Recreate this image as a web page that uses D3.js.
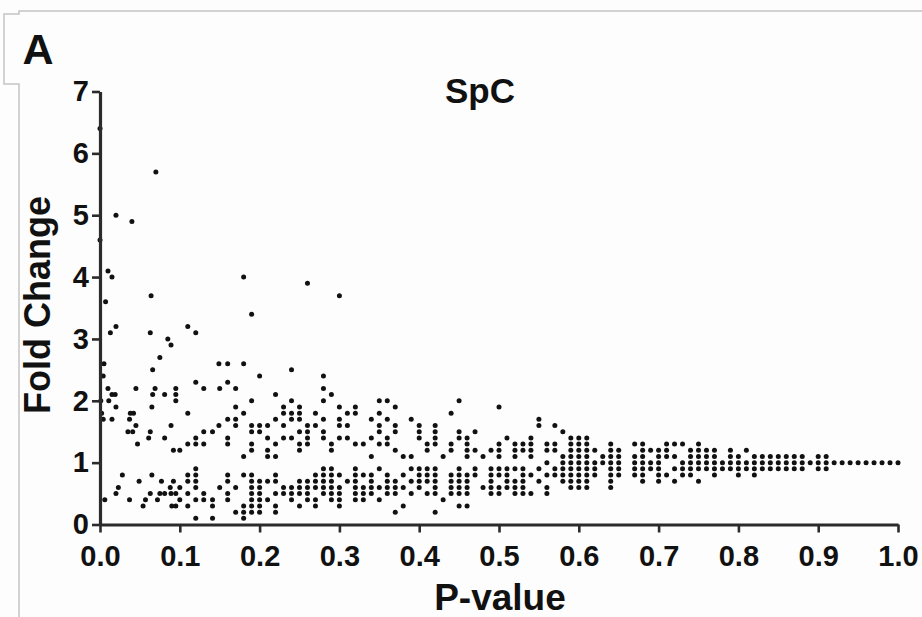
<!DOCTYPE html>
<html>
<head>
<meta charset="utf-8">
<script src="https://cdn.jsdelivr.net/npm/d3@7/dist/d3.min.js"></script>
<style>
  html, body { margin: 0; padding: 0; background: #ffffff; }
  svg { display: block; }
  text { font-family: "Liberation Sans", Arial, Helvetica, sans-serif; font-weight: bold; fill: #111; }
</style>
</head>
<body>
<svg id="chart" width="922" height="617"></svg>
<script>
// ---------- data ----------
const chartTitle = "SpC";
const panelLabel = "A";
const xLabel = "P-value";
const yLabel = "Fold Change";
const xTicks = [0, 0.1, 0.2, 0.3, 0.4, 0.5, 0.6, 0.7, 0.8, 0.9, 1.0];
const yTicks = [0, 1, 2, 3, 4, 5, 6, 7];

// high fold-change outliers: [p-value, fold change]
const outliers = [
  [0.00, 6.4], [0.07, 5.7], [0.02, 5.0], [0.04, 4.9], [0.00, 4.6], [0.01, 4.1],
  [0.015, 4.0], [0.18, 4.0], [0.26, 3.9], [0.064, 3.7], [0.30, 3.7], [0.007, 3.6],
  [0.19, 3.4], [0.02, 3.2], [0.11, 3.2], [0.013, 3.1], [0.063, 3.1], [0.12, 3.1],
  [0.085, 3.0], [0.089, 2.9], [0.075, 2.7], [0.005, 2.6], [0.149, 2.6], [0.16, 2.6],
  [0.18, 2.6], [0.066, 2.5], [0.24, 2.5]
];

// upper band: [fold change, [p-values]]
const upperBand = [
  [2.4, [0.004, 0.20, 0.28]],
  [2.3, [0.12, 0.16]],
  [2.2, [0.01, 0.045, 0.069, 0.095, 0.13, 0.15, 0.17, 0.28]],
  [2.1, [0.015, 0.019, 0.066, 0.081, 0.095, 0.22, 0.29]],
  [2.0, [0.001, 0.011, 0.095, 0.19, 0.24, 0.28, 0.35, 0.36, 0.45]],
  [1.9, [0.02, 0.065, 0.17, 0.23, 0.25, 0.30, 0.32, 0.37, 0.50]],
  [1.8, [0.002, 0.038, 0.042, 0.11, 0.18, 0.23, 0.24, 0.25, 0.27, 0.31, 0.32, 0.35, 0.44]],
  [1.7, [0.004, 0.015, 0.037, 0.16, 0.17, 0.22, 0.24, 0.25, 0.28, 0.30, 0.34, 0.36, 0.39, 0.55]],
  [1.6, [0.045, 0.089, 0.149, 0.17, 0.19, 0.20, 0.21, 0.23, 0.26, 0.27, 0.30, 0.31, 0.35, 0.37, 0.40, 0.42, 0.55, 0.57]],
  [1.5, [0.035, 0.041, 0.063, 0.13, 0.141, 0.19, 0.20, 0.25, 0.26, 0.28, 0.35, 0.37, 0.40, 0.42, 0.45, 0.47, 0.58]],
  [1.4, [0.061, 0.081, 0.12, 0.16, 0.21, 0.23, 0.24, 0.26, 0.28, 0.30, 0.31, 0.34, 0.36, 0.40, 0.42, 0.45, 0.46, 0.51, 0.54, 0.59, 0.60, 0.61]],
  [1.3, [0.047, 0.11, 0.12, 0.13, 0.16, 0.19, 0.22, 0.25, 0.26, 0.29, 0.32, 0.33, 0.35, 0.36, 0.41, 0.42, 0.44, 0.46, 0.50, 0.52, 0.53, 0.54, 0.56, 0.57, 0.59, 0.60, 0.61, 0.64, 0.67, 0.68, 0.71, 0.72, 0.73, 0.75]],
  [1.2, [0.092, 0.10, 0.19, 0.21, 0.25, 0.29, 0.37, 0.41, 0.44, 0.46, 0.47, 0.49, 0.50, 0.52, 0.53, 0.54, 0.56, 0.57, 0.59, 0.60, 0.61, 0.62, 0.64, 0.65, 0.68, 0.69, 0.70, 0.71, 0.74, 0.75, 0.76, 0.77, 0.79, 0.81]],
  [1.1, [0.18, 0.21, 0.22, 0.34, 0.38, 0.39, 0.43, 0.46, 0.48, 0.50, 0.52, 0.54, 0.58, 0.59, 0.60, 0.61, 0.63, 0.64, 0.65, 0.67, 0.68, 0.70, 0.71, 0.72, 0.74, 0.75, 0.76, 0.77, 0.79, 0.80, 0.82, 0.83, 0.84, 0.85, 0.86, 0.87, 0.88, 0.90, 0.91]]
];

// unity row
const unityRow = [
  [1.0, [0.56, 0.58, 0.59, 0.60, 0.61, 0.62, 0.63, 0.64, 0.65, 0.67, 0.68, 0.69, 0.70, 0.73, 0.74, 0.75, 0.76, 0.77, 0.78, 0.79, 0.80, 0.81, 0.82, 0.83, 0.84, 0.85, 0.86, 0.87, 0.88, 0.89, 0.90, 0.91, 0.92, 0.93, 0.94, 0.95, 0.96, 0.97, 0.98, 0.99, 1.00]]
];

// lower band
const lowerBand = [
  [0.9, [0.12, 0.28, 0.29, 0.32, 0.35, 0.39, 0.40, 0.41, 0.42, 0.45, 0.47, 0.49, 0.50, 0.51, 0.52, 0.53, 0.55, 0.57, 0.58, 0.59, 0.60, 0.61, 0.62, 0.64, 0.65, 0.67, 0.68, 0.69, 0.70, 0.72, 0.73, 0.74, 0.75, 0.76, 0.77, 0.78, 0.79, 0.80, 0.81, 0.82, 0.83, 0.84, 0.85, 0.86, 0.87, 0.88, 0.90, 0.91]],
  [0.8, [0.028, 0.065, 0.11, 0.12, 0.16, 0.18, 0.19, 0.22, 0.27, 0.28, 0.29, 0.30, 0.32, 0.33, 0.34, 0.36, 0.38, 0.40, 0.41, 0.42, 0.44, 0.45, 0.46, 0.47, 0.49, 0.50, 0.51, 0.53, 0.54, 0.56, 0.57, 0.58, 0.59, 0.60, 0.61, 0.62, 0.64, 0.65, 0.67, 0.68, 0.70, 0.71, 0.73, 0.74, 0.77, 0.80, 0.82]],
  [0.7, [0.049, 0.077, 0.092, 0.11, 0.12, 0.16, 0.19, 0.20, 0.21, 0.22, 0.25, 0.26, 0.27, 0.28, 0.29, 0.31, 0.32, 0.34, 0.36, 0.37, 0.39, 0.40, 0.41, 0.42, 0.44, 0.45, 0.46, 0.49, 0.51, 0.52, 0.53, 0.55, 0.58, 0.59, 0.60, 0.61, 0.64, 0.68, 0.70, 0.72, 0.75]],
  [0.6, [0.023, 0.088, 0.10, 0.12, 0.15, 0.17, 0.19, 0.20, 0.23, 0.24, 0.25, 0.26, 0.27, 0.28, 0.29, 0.30, 0.32, 0.33, 0.34, 0.35, 0.36, 0.37, 0.38, 0.40, 0.42, 0.44, 0.45, 0.46, 0.48, 0.49, 0.50, 0.51, 0.52, 0.53, 0.56, 0.59, 0.60, 0.61, 0.64]],
  [0.5, [0.02, 0.063, 0.075, 0.081, 0.089, 0.095, 0.11, 0.13, 0.16, 0.19, 0.20, 0.22, 0.23, 0.24, 0.25, 0.26, 0.28, 0.29, 0.30, 0.32, 0.33, 0.34, 0.36, 0.37, 0.39, 0.41, 0.42, 0.44, 0.45, 0.46, 0.49, 0.50, 0.52, 0.53, 0.54, 0.56]],
  [0.4, [0.006, 0.037, 0.057, 0.072, 0.10, 0.12, 0.13, 0.141, 0.16, 0.19, 0.20, 0.21, 0.24, 0.26, 0.27, 0.29, 0.30, 0.32, 0.33, 0.35, 0.43]],
  [0.3, [0.054, 0.09, 0.095, 0.11, 0.141, 0.18, 0.19, 0.20, 0.22, 0.25, 0.27, 0.30, 0.38, 0.45, 0.46]],
  [0.2, [0.17, 0.18, 0.19, 0.20, 0.22, 0.37, 0.42]],
  [0.1, [0.12, 0.141, 0.18]]
];

// ---------- build points ----------
const points = outliers.map(d => ({ p: d[0], fc: d[1] }));
[upperBand, unityRow, lowerBand].forEach(band => {
  band.forEach(row => row[1].forEach(p => points.push({ p: p, fc: row[0] })));
});

// ---------- layout ----------
const svg = d3.select("#chart");
const W = 922, H = 617;
const plot = { left: 100, right: 898, top: 91.5, bottom: 524.5 };

svg.append("rect").attr("width", W).attr("height", H).attr("fill", "#fdfdfd");

// frame lines
svg.append("path")
  .attr("d", "M922,11 H19 V14 H4 V84 H19 V617")
  .attr("fill", "none").attr("stroke", "#c4c4c4").attr("stroke-width", 1.5);

const x = d3.scaleLinear().domain([0, 1]).range([plot.left, plot.right]);
const y = d3.scaleLinear().domain([0, 7]).range([plot.bottom, plot.top]);

// points
svg.append("g").selectAll("circle").data(points).join("circle")
  .attr("cx", d => x(d.p)).attr("cy", d => y(d.fc))
  .attr("r", 2.5).attr("fill", "#111");

// axes
const xAxis = d3.axisBottom(x).tickValues(xTicks).tickFormat(d3.format(".1f"))
  .tickSize(8).tickSizeOuter(0).tickPadding(13);
const yAxis = d3.axisLeft(y).tickValues(yTicks).tickFormat(d3.format("d"))
  .tickSize(8).tickSizeOuter(0).tickPadding(3);

const gx = svg.append("g").attr("transform", `translate(0,${plot.bottom})`).call(xAxis);
const gy = svg.append("g").attr("transform", `translate(${plot.left},0)`).call(yAxis);

[gx, gy].forEach(g => {
  g.select(".domain").attr("stroke", "#2b2b2b").attr("stroke-width", 3.2);
  g.selectAll(".tick line").attr("stroke", "#2b2b2b").attr("stroke-width", 2.6);
  g.selectAll(".tick text")
    .attr("fill", "#111")
    .style("font-family", '"Liberation Sans", Arial, sans-serif')
    .style("font-weight", "bold")
    .style("font-size", "29px");
});

// titles
svg.append("text").attr("x", 38).attr("y", 64).attr("text-anchor", "middle")
  .style("font-size", "43px").text(panelLabel);

svg.append("text").attr("x", 480).attr("y", 103).attr("text-anchor", "middle")
  .style("font-size", "35px").text(chartTitle);

svg.append("text").attr("x", 500).attr("y", 610).attr("text-anchor", "middle")
  .style("font-size", "37px").text(xLabel);

svg.append("text")
  .attr("transform", "translate(50,305) rotate(-90)")
  .attr("text-anchor", "middle")
  .style("font-size", "36px").text(yLabel);
</script>
</body>
</html>
